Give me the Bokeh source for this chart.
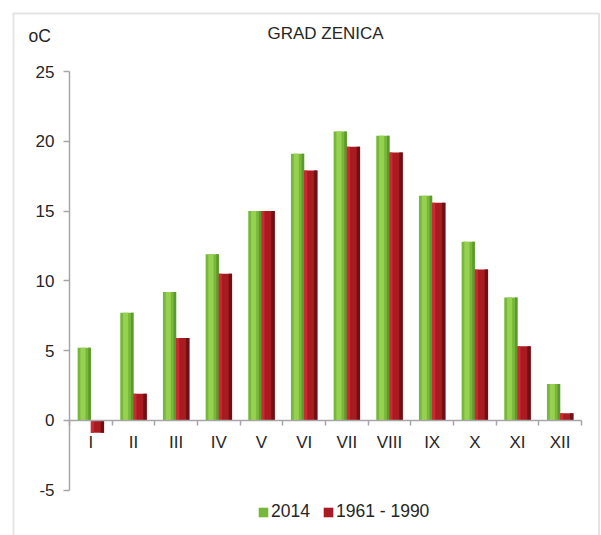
import numpy as np
from bokeh.plotting import figure
from bokeh.models import (Range1d, FixedTicker, Label, Legend, LegendItem,
                          BoxAnnotation, ColumnDataSource)
from bokeh.transform import dodge
from bokeh.embed import file_html
from bokeh.resources import INLINE

# ---- data ----
months = ["I", "II", "III", "IV", "V", "VI", "VII", "VIII", "IX", "X", "XI", "XII"]
t2014 = [5.2, 7.7, 9.2, 11.9, 15.0, 19.1, 20.7, 20.4, 16.1, 12.8, 8.8, 2.6]
t1961_1990 = [-0.9, 1.9, 5.9, 10.5, 15.0, 17.9, 19.6, 19.2, 15.6, 10.8, 5.3, 0.5]
y_ticks = [-5, 0, 5, 10, 15, 20, 25]
title_text = "GRAD ZENICA"
unit_text = "oC"
series_names = ["2014", "1961 - 1990"]

FONT = "'Liberation Sans', Arial, sans-serif"
TXT = "#262626"
AXC = "#a6a6a6"

n = len(months)
cx = np.arange(n) + 0.5
W = 0.31
gx = cx - 0.155
rx = cx + 0.155

src = ColumnDataSource(dict(gx=gx, rx=rx, g=t2014, r=t1961_1990))

# canvas-wide frame; axes are fixed at 0 and bounded to the data extent
PXX = 512 / 12.0      # px per category
PXY = 418.5 / 30.0    # px per degree
x0_px, y0_px = 69.0, 419.75
W_PX, H_PX = 601, 535
xr = Range1d(-x0_px / PXX, (W_PX - x0_px) / PXX)
yr = Range1d(-(H_PX - y0_px) / PXY, y0_px / PXY)

p = figure(width=W_PX, height=H_PX, x_range=xr, y_range=yr,
           output_backend="svg", toolbar_location=None,
           min_border_left=0, min_border_right=0, min_border_top=0, min_border_bottom=0)
p.outline_line_color = None
p.grid.visible = False
p.background_fill_color = "white"
p.border_fill_color = "white"

# outer frame border (bottom edge lies below the visible area)
p.add_layout(BoxAnnotation(left=-56 / PXX, right=529.5 / PXX, top=(y0_px - 13) / PXY,
                           bottom=yr.start - 5, fill_alpha=0, line_color=AXC,
                           line_width=2))

# green bars (2014) with glossy stripes
g_base = p.vbar(x="gx", top="g", bottom=0, width=W, source=src,
                fill_color="#76b83a", line_color=None)
p.vbar(x=dodge("gx", -0.03, range=p.x_range), top="g", bottom=0, width=0.12, source=src,
       fill_color="#98d052", line_color=None)
p.vbar(x=dodge("gx", W / 2 - 0.03, range=p.x_range), top="g", bottom=0, width=0.06,
       source=src, fill_color="#5c9a2b", line_color=None)

# red bars (1961-1990)
r_base = p.vbar(x="rx", top="r", bottom=0, width=W, source=src,
                fill_color="#aa1b21", line_color=None)
p.vbar(x=dodge("rx", -W / 2 + 0.035, range=p.x_range), top="r", bottom=0, width=0.07,
       source=src, fill_color="#c82c32", line_color=None)
p.vbar(x=dodge("rx", W / 2 - 0.04, range=p.x_range), top="r", bottom=0, width=0.08,
       source=src, fill_color="#720f13", line_color=None)

# y axis
ya = p.yaxis[0]
ya.fixed_location = 0
ya.bounds = (y_ticks[0], y_ticks[-1])
ya.ticker = FixedTicker(ticks=y_ticks)
ya.major_label_overrides = {v: str(v) for v in y_ticks}
ya.axis_line_color = AXC
ya.axis_line_width = 1.5
ya.major_tick_line_color = AXC
ya.major_tick_line_width = 1.5
ya.major_tick_out = 6
ya.major_tick_in = 0
ya.minor_tick_line_color = None
ya.major_label_standoff = 9
ya.major_label_text_font = FONT
ya.major_label_text_font_size = "17px"
ya.major_label_text_color = TXT

# x axis at zero, labels centered, ticks at boundaries
xa = p.xaxis[0]
xa.fixed_location = 0
xa.bounds = (0, n)
xa.ticker = FixedTicker(ticks=list(cx), minor_ticks=list(range(n + 1)))
xa.major_label_overrides = {float(c): m for c, m in zip(cx, months)}
xa.axis_line_color = AXC
xa.axis_line_width = 1.5
xa.major_tick_out = 0
xa.major_tick_in = 0
xa.major_tick_line_color = None
xa.minor_tick_line_color = AXC
xa.minor_tick_line_width = 1.5
xa.minor_tick_out = 5
xa.minor_tick_in = 0
xa.major_label_standoff = 8
xa.major_label_text_font = FONT
xa.major_label_text_font_size = "17px"
xa.major_label_text_color = TXT

# title and unit labels
p.add_layout(Label(x=(325 - x0_px) / PXX, y=(y0_px - 33) / PXY, text=title_text,
                   text_align="center", text_baseline="middle", text_font=FONT,
                   text_font_size="17px", text_color=TXT))
p.add_layout(Label(x=(28 - x0_px) / PXX, y=(y0_px - 35) / PXY, text=unit_text,
                   text_align="left", text_baseline="middle", text_font=FONT,
                   text_font_size="17.5px", text_color=TXT))

legend = Legend(items=[LegendItem(label=series_names[0], renderers=[g_base]),
                       LegendItem(label=series_names[1], renderers=[r_base])],
                orientation="horizontal", location=(257, 13),
                glyph_width=12, glyph_height=12, label_standoff=2, spacing=12,
                padding=0, margin=0, label_height=20,
                label_text_font=FONT, label_text_font_size="17.5px",
                label_text_color=TXT,
                background_fill_alpha=0, border_line_alpha=0)
p.add_layout(legend, "center")

open("out.html", "w").write(file_html(p, INLINE))
